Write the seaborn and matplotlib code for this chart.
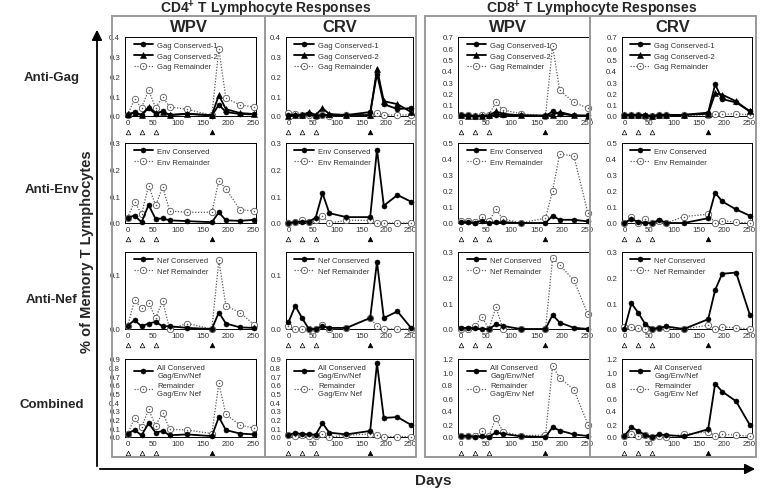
import matplotlib
matplotlib.use("Agg")
import matplotlib.pyplot as plt
import seaborn as sns
from matplotlib.patches import Rectangle, FancyArrowPatch

sns.set_theme(style="white")
plt.rcParams["font.family"] = ["Liberation Sans", "DejaVu Sans"]
plt.rcParams["mathtext.fontset"] = "custom"
plt.rcParams["mathtext.rm"] = "Liberation Sans"
plt.rcParams["mathtext.bf"] = "Liberation Sans:bold"

# ---------------- data ----------------
days = [0, 14, 28, 42, 56, 70, 84, 119, 168, 182, 196, 224, 252]
vacc_open = [0, 28, 56]
vacc_filled = [168]
xticks = [0, 50, 100, 150, 200, 250]

# CD4 WPV
cd4_wpv_gag_c1 = [0.005, 0.020, 0.005, 0.040, 0.010, 0.025, 0.005, 0.012, 0.002, 0.057, 0.020, 0.010, 0.008]
cd4_wpv_gag_c2 = [0.010, 0.015, 0.005, 0.045, 0.015, 0.020, 0.005, 0.010, 0.005, 0.105, 0.035, 0.015, 0.010]
cd4_wpv_gag_rem = [0.005, 0.084, 0.042, 0.130, 0.042, 0.096, 0.046, 0.034, 0.003, 0.340, 0.090, 0.057, 0.045]
cd4_wpv_env_con = [0.020, 0.028, 0.003, 0.068, 0.015, 0.017, 0.010, 0.007, 0.003, 0.040, 0.010, 0.008, 0.012]
cd4_wpv_env_rem = [0.020, 0.080, 0.033, 0.140, 0.066, 0.135, 0.045, 0.040, 0.040, 0.158, 0.128, 0.050, 0.045]
cd4_wpv_nef_con = [0.006, 0.016, 0.005, 0.010, 0.013, 0.005, 0.005, 0.002, 0.000, 0.030, 0.010, 0.003, 0.002]
cd4_wpv_nef_rem = [0.005, 0.052, 0.038, 0.048, 0.020, 0.051, 0.000, 0.010, 0.000, 0.125, 0.042, 0.030, 0.008]
cd4_wpv_all_con = [0.040, 0.080, 0.020, 0.160, 0.050, 0.070, 0.020, 0.030, 0.010, 0.230, 0.080, 0.040, 0.030]
cd4_wpv_all_rem = [0.030, 0.220, 0.110, 0.320, 0.130, 0.280, 0.090, 0.080, 0.040, 0.620, 0.260, 0.140, 0.100]

# CD4 CRV
cd4_crv_gag_c1 = [0.005, 0.005, 0.003, 0.010, 0.000, 0.005, 0.005, 0.005, 0.020, 0.213, 0.060, 0.035, 0.040]
cd4_crv_gag_c2 = [0.000, 0.005, 0.003, 0.020, 0.005, 0.040, 0.010, 0.005, 0.005, 0.240, 0.075, 0.060, 0.020]
cd4_crv_gag_rem = [0.015, 0.010, 0.005, 0.005, 0.000, 0.005, 0.000, 0.005, 0.005, 0.015, 0.005, 0.005, 0.005]
cd4_crv_env_con = [0.000, 0.003, 0.005, 0.005, 0.020, 0.112, 0.037, 0.022, 0.022, 0.275, 0.065, 0.105, 0.080]
cd4_crv_env_rem = [0.000, 0.005, 0.012, 0.005, 0.010, 0.027, 0.000, 0.010, 0.010, 0.000, 0.000, 0.000, 0.000]
cd4_crv_nef_con = [0.012, 0.042, 0.020, 0.000, 0.000, 0.005, 0.002, 0.002, 0.020, 0.122, 0.020, 0.032, 0.002]
cd4_crv_nef_rem = [0.005, 0.000, 0.000, 0.000, 0.000, 0.008, 0.000, 0.002, 0.020, 0.005, 0.000, 0.000, 0.000]
cd4_crv_all_con = [0.020, 0.050, 0.030, 0.035, 0.025, 0.160, 0.050, 0.030, 0.070, 0.850, 0.220, 0.230, 0.140]
cd4_crv_all_rem = [0.020, 0.015, 0.020, 0.010, 0.010, 0.040, 0.000, 0.020, 0.035, 0.020, 0.005, 0.005, 0.005]

# CD8 WPV
cd8_wpv_gag_c1 = [0.010, 0.005, 0.000, 0.000, 0.000, 0.010, 0.010, 0.005, 0.000, 0.040, 0.020, 0.005, 0.005]
cd8_wpv_gag_c2 = [0.005, 0.000, 0.000, 0.000, 0.005, 0.040, 0.020, 0.005, 0.005, 0.010, 0.035, 0.005, 0.000]
cd8_wpv_gag_rem = [0.010, 0.005, 0.000, 0.005, 0.010, 0.120, 0.055, 0.020, 0.000, 0.620, 0.230, 0.120, 0.070]
cd8_wpv_env_con = [0.005, 0.005, 0.000, 0.015, 0.000, 0.005, 0.005, 0.000, 0.000, 0.045, 0.020, 0.020, 0.010]
cd8_wpv_env_rem = [0.010, 0.015, 0.005, 0.035, 0.010, 0.085, 0.025, 0.000, 0.030, 0.200, 0.430, 0.420, 0.060]
cd8_wpv_nef_con = [0.003, 0.005, 0.003, 0.000, 0.000, 0.018, 0.012, 0.000, 0.000, 0.055, 0.025, 0.005, 0.000]
cd8_wpv_nef_rem = [0.000, 0.000, 0.010, 0.048, 0.000, 0.085, 0.000, 0.000, 0.000, 0.275, 0.250, 0.190, 0.057]
cd8_wpv_all_con = [0.020, 0.015, 0.005, 0.015, 0.005, 0.070, 0.050, 0.010, 0.000, 0.150, 0.100, 0.040, 0.015]
cd8_wpv_all_rem = [0.020, 0.020, 0.015, 0.090, 0.020, 0.290, 0.080, 0.020, 0.030, 1.090, 0.910, 0.730, 0.190]

# CD8 CRV
cd8_crv_gag_c1 = [0.010, 0.010, 0.010, 0.005, 0.000, 0.010, 0.010, 0.010, 0.030, 0.280, 0.150, 0.120, 0.040]
cd8_crv_gag_c2 = [0.010, 0.005, 0.005, 0.005, 0.000, 0.005, 0.005, 0.010, 0.020, 0.200, 0.190, 0.130, 0.040]
cd8_crv_gag_rem = [0.010, 0.005, 0.005, 0.000, 0.000, 0.005, 0.005, 0.005, 0.010, 0.020, 0.015, 0.020, 0.010]
cd8_crv_env_con = [0.000, 0.025, 0.005, 0.000, 0.000, 0.020, 0.000, 0.000, 0.030, 0.190, 0.135, 0.085, 0.045]
cd8_crv_env_rem = [0.000, 0.035, 0.000, 0.025, 0.000, 0.010, 0.000, 0.040, 0.055, 0.000, 0.015, 0.005, 0.000]
cd8_crv_nef_con = [0.000, 0.100, 0.062, 0.018, 0.000, 0.005, 0.010, 0.000, 0.038, 0.152, 0.215, 0.220, 0.053]
cd8_crv_nef_rem = [0.008, 0.008, 0.005, 0.000, 0.000, 0.005, 0.005, 0.000, 0.015, 0.000, 0.008, 0.005, 0.000]
cd8_crv_all_con = [0.020, 0.150, 0.090, 0.030, 0.000, 0.040, 0.030, 0.010, 0.120, 0.820, 0.700, 0.550, 0.180]
cd8_crv_all_rem = [0.020, 0.050, 0.010, 0.030, 0.000, 0.020, 0.005, 0.040, 0.080, 0.020, 0.040, 0.030, 0.010]

# legend labels
gag_labels = ["Gag Conserved-1", "Gag Conserved-2", "Gag Remainder"]
env_labels = ["Env Conserved", "Env Remainder"]
nef_labels = ["Nef Conserved", "Nef Remainder"]
all_labels = ["All Conserved\nGag/Env/Nef", "Remainder\nGag/Env Nef"]

group_titles = ["CD4$^{\\mathbf{+}}$ T Lymphocyte Responses", "CD8$^{\\mathbf{+}}$ T Lymphocyte Responses"]
col_titles = ["WPV", "CRV", "WPV", "CRV"]
row_titles = ["Anti-Gag", "Anti-Env", "Anti-Nef", "Combined"]
ylab = "% of Memory T Lymphocytes"
xlab = "Days"

# y axis ranges per row: (max, tick step)
cd4_ylims = [(0.4, 0.1), (0.3, 0.1), (0.14, 0.1), (0.9, 0.1)]
cd8_ylims = [(0.7, 0.1), (0.5, 0.1), (0.3, 0.1), (1.2, 0.2)]

# ---------------- layout ----------------
W, H = 760, 489
fig = plt.figure(figsize=(W / 100, H / 100), dpi=100)

col_px = [(125, 256), (286, 413), (458, 590), (622, 752)]
row_px = [(38, 117), (144, 224), (253, 330), (360, 438)]


def add_px_axes(l, r, t, b):
    return fig.add_axes([l / W, 1 - b / H, (r - l) / W, (b - t) / H])


def fig_text(x, y, s, **kw):
    fig.text(x / W, 1 - y / H, s, **kw)


panels = {
    0: [[cd4_wpv_gag_c1, cd4_wpv_gag_c2, cd4_wpv_gag_rem], [cd4_wpv_env_con, cd4_wpv_env_rem],
        [cd4_wpv_nef_con, cd4_wpv_nef_rem], [cd4_wpv_all_con, cd4_wpv_all_rem]],
    1: [[cd4_crv_gag_c1, cd4_crv_gag_c2, cd4_crv_gag_rem], [cd4_crv_env_con, cd4_crv_env_rem],
        [cd4_crv_nef_con, cd4_crv_nef_rem], [cd4_crv_all_con, cd4_crv_all_rem]],
    2: [[cd8_wpv_gag_c1, cd8_wpv_gag_c2, cd8_wpv_gag_rem], [cd8_wpv_env_con, cd8_wpv_env_rem],
        [cd8_wpv_nef_con, cd8_wpv_nef_rem], [cd8_wpv_all_con, cd8_wpv_all_rem]],
    3: [[cd8_crv_gag_c1, cd8_crv_gag_c2, cd8_crv_gag_rem], [cd8_crv_env_con, cd8_crv_env_rem],
        [cd8_crv_nef_con, cd8_crv_nef_rem], [cd8_crv_all_con, cd8_crv_all_rem]],
}
row_labels = [gag_labels, env_labels, nef_labels, all_labels]

# gray column boxes
box_top, box_bot = 17, 458
for (l, r) in [(112, 265), (265, 416), (425, 590), (590, 756)]:
    fig.patches.append(Rectangle((l / W, 1 - box_bot / H), (r - l) / W, (box_bot - box_top) / H,
                                 transform=fig.transFigure, fill=False, edgecolor="#9a9a9a", lw=1.4))

rem_col = "#5a5a5a"
txt_col = "#333333"

for ci, (l, r) in enumerate(col_px):
    ylims = cd4_ylims if ci < 2 else cd8_ylims
    for ri, (t, b) in enumerate(row_px):
        ax = add_px_axes(l, r, t, b)
        series = panels[ci][ri]
        labels = row_labels[ri]
        handles = []
        for si, vals in enumerate(series):
            is_rem = si == len(series) - 1
            if not is_rem:
                mk = "o" if si == 0 else "^"
                sns.lineplot(x=days, y=vals, ax=ax, color="black", lw=1.3, marker=mk,
                             ms=3.6 if mk == "o" else 4.2, mfc="black", mec="black", mew=0.4,
                             clip_on=False, zorder=4, legend=False)
                handles.append(ax.lines[-1])
            else:
                sns.lineplot(x=days, y=vals, ax=ax, color=rem_col, lw=0.9, linestyle=(0, (1, 1.3)),
                             marker="o", ms=4.6, mfc="white", mec=rem_col, mew=0.6,
                             clip_on=False, zorder=3, legend=False)
                h1 = ax.lines[-1]
                sns.lineplot(x=days, y=vals, ax=ax, color=rem_col, linestyle="none", marker="o",
                             ms=1.1, mfc=rem_col, mec=rem_col, mew=0, clip_on=False, zorder=3,
                             legend=False)
                h2 = ax.lines[-1]
                handles.append((h1, h2))
        ymax, ystep = ylims[ri]
        ax.set_ylim(0, ymax)
        nt = int(round(ymax / ystep + 1e-9))
        ax.set_yticks([round(ystep * k, 2) for k in range(nt + 1)])
        ax.yaxis.set_major_formatter(matplotlib.ticker.FormatStrFormatter("%.1f"))
        ax.set_xlim(-5, 256)
        ax.set_xticks(xticks)
        ax.tick_params(axis="both", labelsize=5.7, length=2, width=0.6, pad=1.5,
                       direction="out", colors="black", labelcolor=txt_col)
        ax.tick_params(axis="x", length=0, pad=2)
        for s in ax.spines.values():
            s.set_color("black")
            s.set_linewidth(0.7)
        ax.set_facecolor("white")
        leg = ax.legend(handles, labels, loc="upper left", bbox_to_anchor=(0.03, 1.0),
                        frameon=False, fontsize=5.5, handlelength=2.6, handletextpad=0.5,
                        labelspacing=0.45, borderaxespad=0.2)
        for txt in leg.get_texts():
            txt.set_color(txt_col)
        # vaccination markers below the axis
        hpx = b - t
        yv = -15.5 / hpx
        sns.scatterplot(x=vacc_open, y=[yv] * len(vacc_open), ax=ax, marker="^", s=11,
                        facecolor="white", edgecolor="black", linewidth=0.5,
                        transform=ax.get_xaxis_transform(), clip_on=False, legend=False)
        sns.scatterplot(x=vacc_filled, y=[yv] * len(vacc_filled), ax=ax, marker="^", s=11,
                        color="black", edgecolor="black", linewidth=0.5,
                        transform=ax.get_xaxis_transform(), clip_on=False, legend=False)
        ax.set_xlabel("")
        ax.set_ylabel("")

# titles
fig_text(266, 13.5, group_titles[0], ha="center", va="baseline", fontsize=10, fontweight="bold")
fig_text(592, 13.5, group_titles[1], ha="center", va="baseline", fontsize=10, fontweight="bold")
for x, s in zip([189, 340, 508, 673], col_titles):
    fig_text(x, 32, s, ha="center", va="baseline", fontsize=12, fontweight="bold")
for y, s in zip([78, 190, 300, 405], row_titles):
    fig_text(52, y, s, ha="center", va="center", fontsize=9.5, fontweight="bold")

# axis arrows
fig.patches.append(FancyArrowPatch((97 / W, 1 - 470 / H), (97 / W, 1 - 28 / H),
                                   transform=fig.transFigure, arrowstyle="-|>,head_length=6,head_width=3",
                                   color="black", lw=1.3, mutation_scale=1))
fig.patches.append(FancyArrowPatch((97 / W, 1 - 470 / H), (758 / W, 1 - 470 / H),
                                   transform=fig.transFigure, arrowstyle="-|>,head_length=6,head_width=3",
                                   color="black", lw=1.3, mutation_scale=1))
fig_text(87, 252, ylab, ha="center", va="center", rotation=90, fontsize=10.5, fontweight="bold")
fig_text(433, 481, xlab, ha="center", va="center", fontsize=11, fontweight="bold")

fig.savefig("out.png", dpi=100, facecolor="white")
